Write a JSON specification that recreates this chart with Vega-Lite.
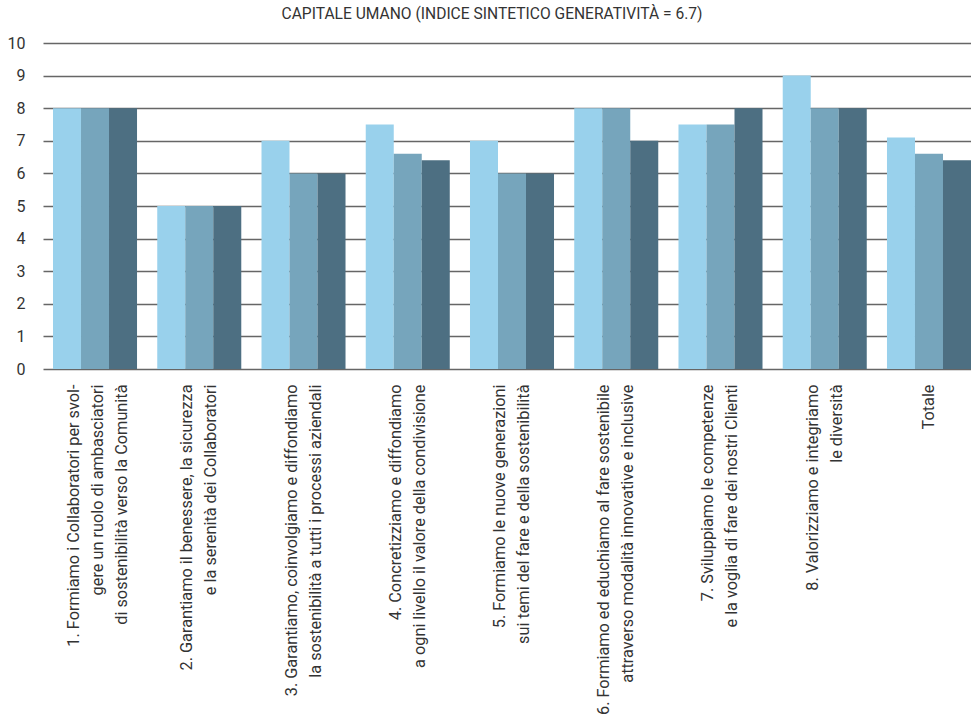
{
  "$schema": "https://vega.github.io/schema/vega-lite/v6.json",
  "autosize": {"type": "none"},
  "width": 928,
  "height": 326,
  "padding": {"left": 43, "top": 43, "right": 0, "bottom": 353},
  "background": "white",
  "title": {
    "text": "CAPITALE UMANO (INDICE SINTETICO GENERATIVITÀ = 6.7)",
    "anchor": "middle",
    "frame": "group",
    "font": "Roboto",
    "fontSize": 15.6,
    "fontWeight": "normal",
    "color": "#333333",
    "offset": 12,
    "dx": -15
  },
  "config": {"view": {"stroke": null}},
  "data": {
    "values": [
      {"cat": "1. Formiamo i Collaboratori per svol-|gere un ruolo di ambasciatori|di sostenibilità verso la Comunità", "serie": "A", "valore": 8},
      {"cat": "1. Formiamo i Collaboratori per svol-|gere un ruolo di ambasciatori|di sostenibilità verso la Comunità", "serie": "B", "valore": 8},
      {"cat": "1. Formiamo i Collaboratori per svol-|gere un ruolo di ambasciatori|di sostenibilità verso la Comunità", "serie": "C", "valore": 8},
      {"cat": "2. Garantiamo il benessere, la sicurezza|e la serenità dei Collaboratori", "serie": "A", "valore": 5},
      {"cat": "2. Garantiamo il benessere, la sicurezza|e la serenità dei Collaboratori", "serie": "B", "valore": 5},
      {"cat": "2. Garantiamo il benessere, la sicurezza|e la serenità dei Collaboratori", "serie": "C", "valore": 5},
      {"cat": "3. Garantiamo, coinvolgiamo e diffondiamo|la sostenibilità a tutti i processi aziendali", "serie": "A", "valore": 7},
      {"cat": "3. Garantiamo, coinvolgiamo e diffondiamo|la sostenibilità a tutti i processi aziendali", "serie": "B", "valore": 6},
      {"cat": "3. Garantiamo, coinvolgiamo e diffondiamo|la sostenibilità a tutti i processi aziendali", "serie": "C", "valore": 6},
      {"cat": "4. Concretizziamo e diffondiamo|a ogni livello il valore della condivisione", "serie": "A", "valore": 7.5},
      {"cat": "4. Concretizziamo e diffondiamo|a ogni livello il valore della condivisione", "serie": "B", "valore": 6.6},
      {"cat": "4. Concretizziamo e diffondiamo|a ogni livello il valore della condivisione", "serie": "C", "valore": 6.4},
      {"cat": "5. Formiamo le nuove generazioni|sui temi del fare e della sostenibilità", "serie": "A", "valore": 7},
      {"cat": "5. Formiamo le nuove generazioni|sui temi del fare e della sostenibilità", "serie": "B", "valore": 6},
      {"cat": "5. Formiamo le nuove generazioni|sui temi del fare e della sostenibilità", "serie": "C", "valore": 6},
      {"cat": "6. Formiamo ed educhiamo al fare sostenibile|attraverso modalità innovative e inclusive", "serie": "A", "valore": 8},
      {"cat": "6. Formiamo ed educhiamo al fare sostenibile|attraverso modalità innovative e inclusive", "serie": "B", "valore": 8},
      {"cat": "6. Formiamo ed educhiamo al fare sostenibile|attraverso modalità innovative e inclusive", "serie": "C", "valore": 7},
      {"cat": "7. Sviluppiamo le competenze|e la voglia di fare dei nostri Clienti", "serie": "A", "valore": 7.5},
      {"cat": "7. Sviluppiamo le competenze|e la voglia di fare dei nostri Clienti", "serie": "B", "valore": 7.5},
      {"cat": "7. Sviluppiamo le competenze|e la voglia di fare dei nostri Clienti", "serie": "C", "valore": 8},
      {"cat": "8. Valorizziamo e integriamo|le diversità", "serie": "A", "valore": 9},
      {"cat": "8. Valorizziamo e integriamo|le diversità", "serie": "B", "valore": 8},
      {"cat": "8. Valorizziamo e integriamo|le diversità", "serie": "C", "valore": 8},
      {"cat": "Totale", "serie": "A", "valore": 7.1},
      {"cat": "Totale", "serie": "B", "valore": 6.6},
      {"cat": "Totale", "serie": "C", "valore": 6.4}
    ]
  },
  "mark": {"type": "bar"},
  "encoding": {
    "x": {
      "field": "cat",
      "type": "nominal",
      "sort": null,
      "scale": {"paddingInner": 0.194, "paddingOuter": 0.048, "align": 1},
      "axis": {
        "title": null,
        "labelAngle": -90,
        "labelExpr": "split(datum.label, '|')",
        "ticks": false,
        "domain": false,
        "labelPadding": 15,
        "labelFont": "Roboto",
        "labelFontSize": 16.3,
        "labelLineHeight": 24,
        "labelColor": "#333333",
        "labelLimit": 400,
        "labelOffset": {
          "condition": [
            {"test": "length(split(datum.value, '|')) >= 3", "value": -21},
            {"test": "length(split(datum.value, '|')) == 2", "value": -12}
          ],
          "value": 0
        }
      }
    },
    "xOffset": {
      "field": "serie",
      "type": "nominal",
      "sort": null,
      "scale": {"paddingInner": 0, "paddingOuter": 0}
    },
    "y": {
      "field": "valore",
      "type": "quantitative",
      "scale": {"domain": [0, 10], "nice": false},
      "axis": {
        "title": null,
        "values": [0, 1, 2, 3, 4, 5, 6, 7, 8, 9, 10],
        "grid": true,
        "gridColor": "#666666",
        "gridWidth": 1.5,
        "domain": false,
        "ticks": false,
        "labelPadding": 18,
        "labelFont": "Roboto",
        "labelFontSize": 16,
        "labelColor": "#333333"
      }
    },
    "color": {
      "field": "serie",
      "type": "nominal",
      "sort": null,
      "scale": {"range": ["#99D1EC", "#76A5BC", "#4D6F82"]},
      "legend": null
    }
  }
}
